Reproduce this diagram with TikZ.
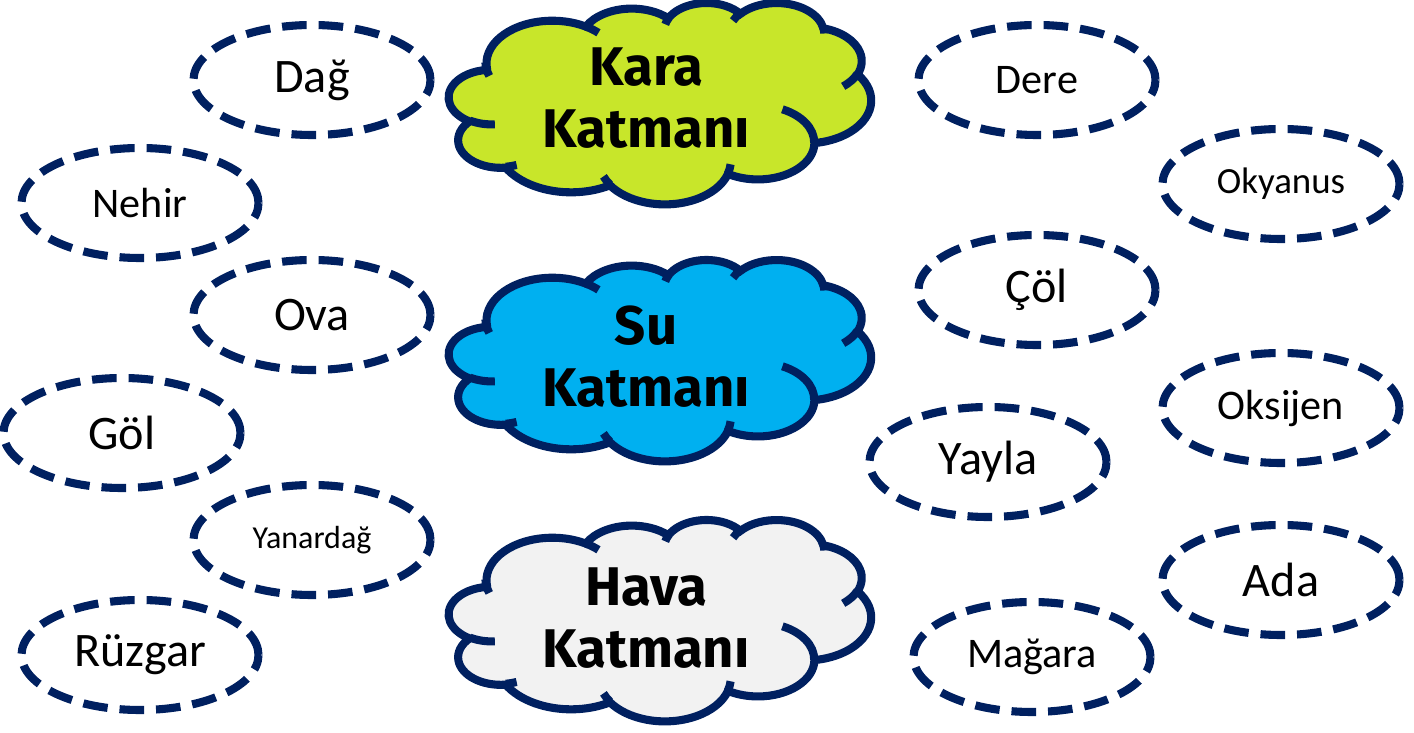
\documentclass[tikz,border=0pt]{standalone}
\usepackage{fontspec}
\setmainfont{Carlito}
\newfontfamily\cloudfont{Fira Sans}
\usetikzlibrary{shapes,positioning}
\definecolor{navy}{HTML}{002060}
\definecolor{limegreen}{HTML}{C8E62A}
\definecolor{skyblue}{HTML}{00B0F0}
\definecolor{palegray}{HTML}{F2F2F2}

\begin{document}
\begin{tikzpicture}[
    declare function={vis(\w,\h,\a)=atan2(\w*sin(\a),\h*cos(\a));},
    puff/.style n args={4}{x radius=#1, y radius=#2, start angle={vis(#1,#2,#3)},
        delta angle={mod(vis(#1,#2,#3+#4)-vis(#1,#2,#3)+720,360)}},
    layercloud/.pic={
        \begin{scope}[x=0.0977cm, y=-0.0466cm, shift={(-21.6,-21.6)}, line width=2.3pt]
        \path [pic actions, draw=navy] (3.900,14.370)
            arc[puff={6.753}{9.190}{-190.4875}{123.7805}]
            arc[puff={5.333}{7.267}{-144.1024}{89.9452}]
            arc[puff={4.365}{5.945}{-145.8079}{99.7230}]
            arc[puff={4.857}{6.595}{-130.9861}{117.2417}]
            arc[puff={5.333}{7.273}{-78.7089}{109.0269}]
            arc[puff={6.775}{9.220}{-46.2673}{130.2690}]
            arc[puff={5.785}{7.867}{0.6250}{114.0333}]
            arc[puff={6.752}{9.215}{22.4516}{115.1726}]
            arc[puff={7.720}{10.543}{66.2426}{75.7110}]
            arc[puff={4.360}{5.918}{-274.9421}{146.7356}]
            arc[puff={4.345}{5.945}{-246.8285}{152.5189}] -- cycle;
        % inner folds
        \draw [navy] (4.693,26.177) arc[puff={4.345}{5.945}{86.7420}{26.4295}]
            (6.928,34.899) arc[puff={4.360}{5.918}{73.6105}{11.4475}]
            (16.478,39.090) arc[puff={6.752}{9.215}{137.6242}{14.0811}]
            (28.827,34.751) arc[puff={6.752}{9.215}{6.4533}{15.9984}]
            (34.129,22.954) arc[puff={5.785}{7.867}{-70.2924}{70.9174}]
            (41.798,15.354) arc[puff={5.333}{7.273}{30.3180}{27.7515}]
            (38.324,5.426) arc[puff={4.857}{6.595}{-13.7443}{14.8589}]
            (29.078,3.952) arc[puff={4.857}{6.595}{-149.1815}{18.1954}]
            (22.141,4.720) arc[puff={4.365}{5.945}{-163.4943}{17.6864}]
            (14.000,5.192) arc[puff={6.753}{9.190}{-66.7070}{12.3194}]
            (4.127,15.789) arc[puff={6.753}{9.190}{153.9411}{24.4435}];
        \end{scope}},
    layer/.style={align=center, inner sep=0pt,
        font=\cloudfont\bfseries\fontsize{15.5}{17.6}\selectfont},
    topic/.style={ellipse, draw=navy, line width=2.3pt, dash pattern=on 7pt off 3.4pt,
        minimum width=2.37cm, minimum height=1.1cm, inner sep=0pt},
    large/.style={font=\fontsize{13.7}{16}\selectfont},
    medium/.style={font=\fontsize{12}{14}\selectfont},
    small/.style={font=\fontsize{9.1}{11}\selectfont}]
    \useasboundingbox (0,0) rectangle (14.14,7.33);

    % layers
    \pic [fill=limegreen] at (6.60,6.30) {layercloud};
    \pic [fill=skyblue] at (6.60,3.73) {layercloud};
    \pic [fill=palegray] at (6.60,1.13) {layercloud};
    \node [layer] (kara) at (6.46,6.35) {Kara\\Katmanı};
    \node [layer] (su) at (6.46,3.76) {Su\\Katmanı};
    \node [layer] (hava) at (6.46,1.15) {Hava\\Katmanı};

    % left column
    \node [topic, large] (dag) at (3.12,6.53) {Dağ};
    \node [topic, medium] (nehir) at (1.40,5.30) {Nehir};
    \node [topic, large] (ova) at (3.12,4.18) {Ova};
    \node [topic, large] (gol) at (1.22,3.00) {Göl};
    \node [topic, small] (yanardag) at (3.12,1.93) {Yanardağ};
    \node [topic, large] (ruzgar) at (1.40,0.78) {Rüzgar};

    % right column
    \node [topic, medium] (dere) at (10.37,6.53) {Dere};
    \node [topic, font=\fontsize{10.5}{13}\selectfont] (okyanus) at (12.81,5.49) {Okyanus};
    \node [topic, large] (col) at (10.37,4.43) {Çöl};
    \node [topic, medium] (oksijen) at (12.81,3.25) {Oksijen};
    \node [topic, large] (yayla) at (9.88,2.71) {Yayla};
    \node [topic, large] (ada) at (12.81,1.53) {Ada};
    \node [topic, medium] (magara) at (10.32,0.76) {Mağara};
\end{tikzpicture}
\end{document}
